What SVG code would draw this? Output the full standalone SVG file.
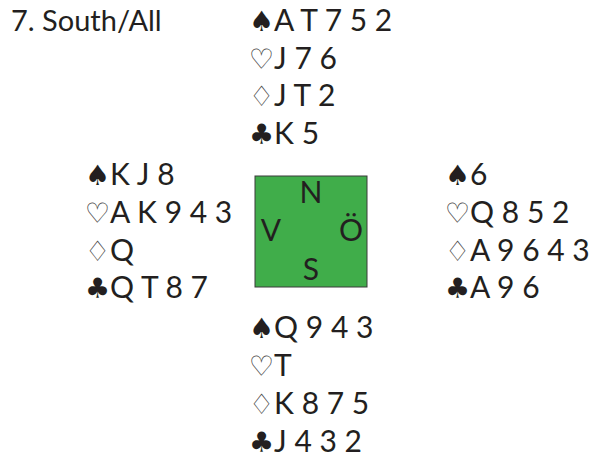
<svg xmlns="http://www.w3.org/2000/svg" width="593" height="459" viewBox="0 0 593 459">
<style>
text{font-family:Lato,"Open Sans","Liberation Sans",sans-serif;font-size:30px;fill:#231f20}
.s{font-family:"DejaVu Sans",sans-serif;font-size:28px}
.o{font-family:"DejaVu Sans",sans-serif;font-size:28px;fill:#444}
.c{text-anchor:middle}
</style>
<rect width="593" height="459" fill="#fff"/>
<g id="title"><text x="11" y="31" style="font-size:29px">7. South/All</text></g>
<g id="north">
<text x="249" y="31"><tspan class="s">♠</tspan>A T 7 5 2</text>
<text x="249" y="69"><tspan class="o">♡</tspan>J 7 6</text>
<text x="249" y="106"><tspan class="o">♢</tspan>J T 2</text>
<text x="249" y="144"><tspan class="s">♣</tspan>K 5</text>
</g>
<g id="west">
<text x="85" y="185"><tspan class="s">♠</tspan>K J 8</text>
<text x="85" y="223"><tspan class="o">♡</tspan>A K 9 4 3</text>
<text x="85" y="261"><tspan class="o">♢</tspan>Q</text>
<text x="85" y="298"><tspan class="s">♣</tspan>Q T 8 7</text>
</g>
<g id="east">
<text x="445" y="185"><tspan class="s">♠</tspan>6</text>
<text x="445" y="223"><tspan class="o">♡</tspan>Q 8 5 2</text>
<text x="445" y="261"><tspan class="o">♢</tspan>A 9 6 4 3</text>
<text x="445" y="298"><tspan class="s">♣</tspan>A 9 6</text>
</g>
<g id="table">
<rect x="255" y="176" width="112" height="111" fill="#40ad4a" stroke="#3a3a3a" stroke-width="1"/>
<text class="c" x="311" y="203">N</text>
<text class="c" x="271" y="241">V</text>
<text class="c" x="351" y="241">Ö</text>
<text class="c" x="311" y="280">S</text>
</g>
<g id="south">
<text x="249" y="338"><tspan class="s">♠</tspan>Q 9 4 3</text>
<text x="249" y="376"><tspan class="o">♡</tspan>T</text>
<text x="249" y="414"><tspan class="o">♢</tspan>K 8 7 5</text>
<text x="249" y="452"><tspan class="s">♣</tspan>J 4 3 2</text>
</g>
<g id="connectors"/>
</svg>
